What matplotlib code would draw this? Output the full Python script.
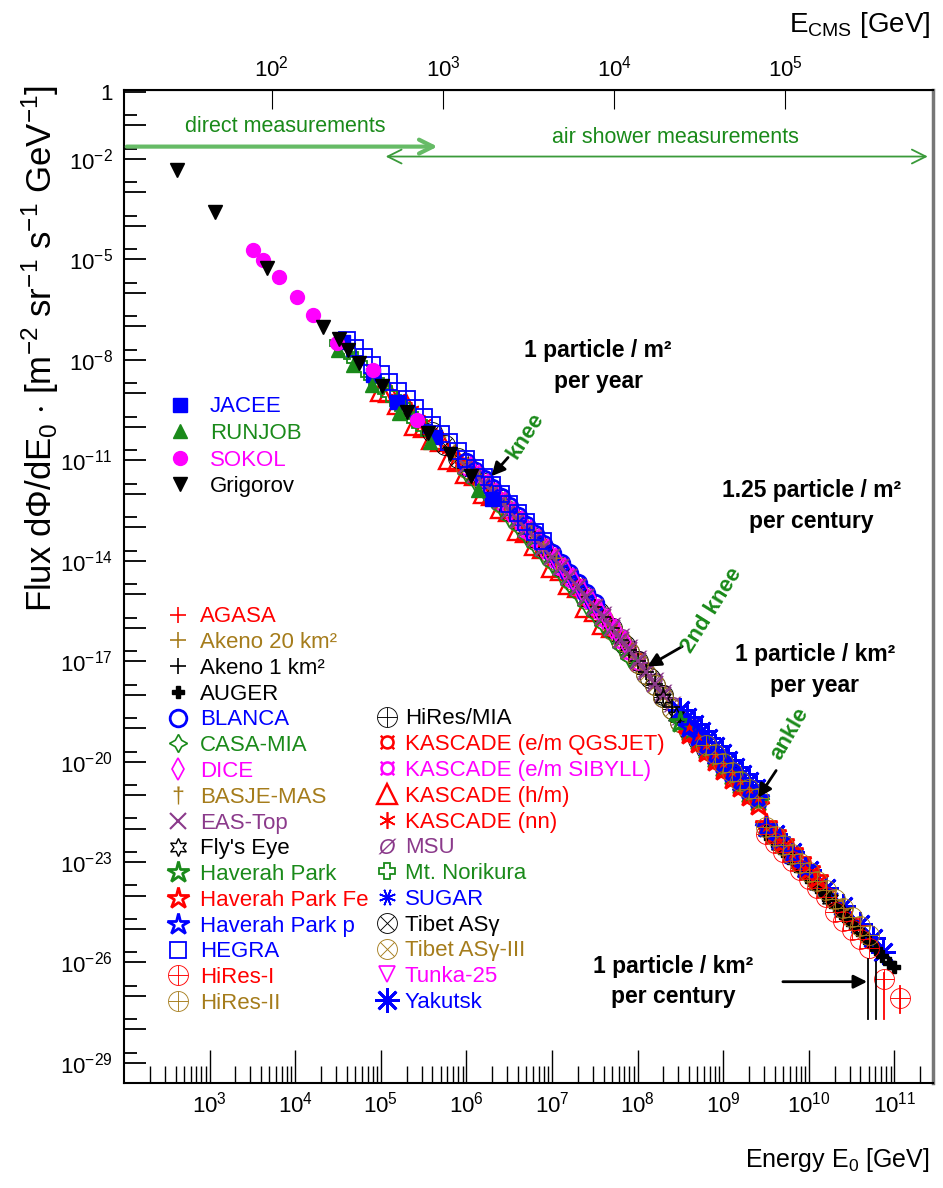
import numpy as np
import matplotlib
matplotlib.use('Agg')
import matplotlib.pyplot as plt
from matplotlib.lines import Line2D
from matplotlib.ticker import FixedLocator, FixedFormatter, NullLocator, NullFormatter

plt.rcParams['font.family'] = ['Liberation Sans', 'DejaVu Sans']
plt.rcParams['mathtext.fontset'] = 'custom'
plt.rcParams['mathtext.rm'] = 'Liberation Sans'
plt.rcParams['mathtext.it'] = 'Liberation Sans:italic'
plt.rcParams['mathtext.bf'] = 'Liberation Sans:bold'

RED = '#ff0000'
GREEN = '#1a8a1a'
MAG = '#ff00ff'
BLUE = '#0000ff'
BROWN = '#a57c1b'
PURPLE = '#8b3a8b'
BLACK = '#000000'

# ---- data: log10(E0 / GeV) and log10(flux) ----
grigorov_e = [2.62, 3.06, 3.67, 4.32, 4.51, 4.62, 4.75, 5.01, 5.31, 5.55, 5.81, 6.05]
grigorov_f = [-2.33, -3.58, -5.25, -7.01, -7.37, -7.70, -8.09, -8.78, -9.55, -10.18, -10.81, -11.46]
sokol_e = [3.51, 3.62, 3.81, 4.02, 4.21, 4.49, 4.91, 5.42]
sokol_f = [-4.72, -5.01, -5.52, -6.12, -6.66, -7.49, -8.30, -9.79]
jacee_e = [4.56, 4.91, 5.19, 5.63, 6.30]
jacee_f = [-7.46, -8.45, -9.25, -10.30, -12.15]
runjob_e = [4.50, 4.68, 4.90, 5.21, 5.57, 6.14]
runjob_f = [-7.70, -8.15, -8.75, -9.58, -10.45, -11.88]

hegra_e = [4.6, 4.7, 4.8, 4.9, 5.0, 5.1, 5.2, 5.3, 5.4, 5.5, 5.6, 5.7, 5.8, 5.9, 6.0, 6.1, 6.2, 6.3,
           6.4, 6.5, 6.6, 6.7, 6.8, 6.9]
hegra_f = [-7.40, -7.65, -7.91, -8.16, -8.42, -8.67, -8.93, -9.18, -9.44, -9.70, -9.95, -10.21,
           -10.46, -10.72, -10.97, -11.23, -11.49, -11.75, -12.02, -12.30, -12.58, -12.85, -13.13, -13.41]
norikura_e = [4.5, 4.6, 4.7, 4.8, 4.9, 5.0, 5.1, 5.2, 5.3, 5.4, 5.5]
norikura_f = [-7.49, -7.75, -8.00, -8.26, -8.51, -8.77, -9.02, -9.28, -9.53, -9.79, -10.05]
kascade_hm_e = [5.0, 5.1, 5.2, 5.3, 5.4, 5.5, 5.6, 5.7, 5.8, 5.9, 6.0, 6.1, 6.2, 6.3, 6.4, 6.5, 6.6,
                6.7, 6.8, 6.9, 7.0, 7.1, 7.2, 7.3, 7.4, 7.5, 7.6, 7.7]
kascade_hm_f = [-8.92, -8.97, -9.33, -9.38, -9.94, -10.00, -10.35, -10.41, -10.96, -11.02, -11.37,
                -11.43, -11.99, -12.05, -12.42, -12.50, -13.08, -13.15, -13.53, -13.61, -14.19, -14.29,
                -14.69, -14.79, -15.39, -15.49, -15.89, -15.99]
kascade_nn_e = [5.2, 5.35, 5.5, 5.65, 5.8, 5.95, 6.1, 6.25, 6.4, 6.55, 6.7, 6.85, 7.0]
kascade_nn_f = [-9.13, -9.51, -9.90, -10.28, -10.66, -11.05, -11.43, -11.82, -12.22, -12.64, -13.05,
                -13.47, -13.89]
kascade_qgs_e = [6.0, 6.1, 6.2, 6.3, 6.4, 6.5, 6.6, 6.7, 6.8, 6.9, 7.0, 7.1, 7.2, 7.3, 7.4, 7.5, 7.6,
                 7.7, 7.8, 7.9, 8.0]
kascade_qgs_f = [-11.12, -11.38, -11.64, -11.90, -12.17, -12.45, -12.73, -13.00, -13.28, -13.56, -13.84,
                 -14.14, -14.44, -14.74, -15.04, -15.34, -15.64, -15.96, -16.31, -16.63, -16.95]
kascade_sib_e = [6.0, 6.1, 6.2, 6.3, 6.4, 6.5, 6.6, 6.7, 6.8, 6.9, 7.0, 7.1, 7.2, 7.3, 7.4, 7.5, 7.6,
                 7.7, 7.8, 7.9, 8.0]
kascade_sib_f = [-11.25, -11.51, -11.77, -12.03, -12.30, -12.58, -12.86, -13.13, -13.41, -13.69, -13.97,
                 -14.27, -14.57, -14.87, -15.17, -15.47, -15.77, -16.09, -16.44, -16.76, -17.08]
casamia_e = [6.0, 6.1, 6.2, 6.3, 6.4, 6.5, 6.6, 6.7, 6.8, 6.9, 7.0, 7.1, 7.2, 7.3, 7.4, 7.5, 7.6, 7.7,
             7.8, 7.9]
casamia_f = [-11.39, -11.65, -11.91, -12.17, -12.44, -12.72, -13.00, -13.27, -13.55, -13.83, -14.11,
             -14.41, -14.71, -15.01, -15.31, -15.61, -15.91, -16.23, -16.58, -16.90]
dice_e = [6.05, 6.15, 6.25, 6.35, 6.45, 6.55, 6.65, 6.75, 6.85, 6.95, 7.05, 7.15, 7.25, 7.35, 7.45,
          7.55, 7.65, 7.75, 7.85]
dice_f = [-11.22, -11.48, -11.74, -12.00, -12.28, -12.56, -12.83, -13.11, -13.39, -13.67, -13.96,
          -14.26, -14.56, -14.86, -15.16, -15.46, -15.76, -16.08, -16.44]
basje_e = [5.7, 5.85, 6.0, 6.15, 6.3, 6.45, 6.6, 6.75, 6.9, 7.05]
basje_f = [-10.41, -10.79, -11.17, -11.56, -11.95, -12.36, -12.78, -13.19, -13.61, -14.04]
blanca_e = [6.0, 6.1, 6.2, 6.3, 6.4, 6.5, 6.6, 6.7, 6.8, 6.9, 7.0, 7.1, 7.2, 7.3, 7.4, 7.5]
blanca_f = [-11.05, -11.31, -11.57, -11.83, -12.10, -12.38, -12.66, -12.93, -13.21, -13.49, -13.77,
            -14.07, -14.37, -14.67, -14.97, -15.27]
tunka_e = [6.5, 6.6, 6.7, 6.8, 6.9, 7.0, 7.1, 7.2, 7.3, 7.4, 7.5, 7.6, 7.7]
tunka_f = [-12.60, -12.88, -13.15, -13.43, -13.71, -13.99, -14.29, -14.59, -14.89, -15.19, -15.49,
           -15.79, -16.09]
eastop_e = [6.0, 6.1, 6.2, 6.3, 6.4, 6.5, 6.6, 6.7, 6.8, 6.9, 7.0, 7.1, 7.2, 7.3, 7.4, 7.5, 7.6, 7.7,
            7.8, 7.9, 8.0, 8.1, 8.2, 8.3]
eastop_f = [-11.17, -11.43, -11.69, -11.95, -12.22, -12.50, -12.78, -13.05, -13.33, -13.61, -13.89,
            -14.19, -14.49, -14.79, -15.09, -15.39, -15.69, -16.01, -16.36, -16.68, -17.00, -17.33,
            -17.67, -18.02]
msu_e = [7.6, 7.7, 7.8, 7.9, 8.0, 8.1, 8.2, 8.3, 8.4, 8.5, 8.6]
msu_f = [-15.59, -15.91, -16.26, -16.58, -16.90, -17.23, -17.57, -17.92, -18.28, -18.66, -18.93]
tibet_e = [5.6, 5.75, 5.9, 6.05, 6.2, 6.35, 6.5, 6.65, 6.8, 6.95, 7.1, 7.25, 7.4, 7.55, 7.7, 7.85,
           8.0, 8.15, 8.3]
tibet_f = [-10.15, -10.54, -10.92, -11.30, -11.69, -12.08, -12.50, -12.91, -13.33, -13.75, -14.19,
           -14.64, -15.09, -15.54, -16.01, -16.52, -17.00, -17.50, -18.02]
tibet3_e = [6.0, 6.2, 6.4, 6.6, 6.8, 7.0, 7.2, 7.4, 7.6, 7.7, 7.8, 7.9, 8.0, 8.1, 8.2, 8.3, 8.4,
            8.5, 8.6]
tibet3_f = [-11.22, -11.74, -12.27, -12.83, -13.38, -13.94, -14.54, -15.14, -15.74, -16.06, -16.41,
            -16.73, -17.05, -17.38, -17.72, -18.07, -18.43, -18.81, -19.08]
hiresmia_e = [7.8, 7.9, 8.0, 8.1, 8.2, 8.3, 8.4, 8.5, 8.6, 8.7, 8.8]
hiresmia_f = [-16.41, -16.73, -17.05, -17.38, -17.72, -18.07, -18.43, -18.81, -19.08, -19.35, -19.61]
akeno1_e = [6.8, 6.9, 7.0, 7.1, 7.2, 7.3, 7.4, 7.5, 7.6, 7.7, 7.8, 7.9, 8.0, 8.1, 8.2, 8.3, 8.4,
            8.5, 8.6, 8.7, 8.8]
akeno1_f = [-13.33, -13.61, -13.89, -14.19, -14.49, -14.79, -15.09, -15.39, -15.69, -16.01, -16.36,
            -16.68, -17.00, -17.33, -17.67, -18.02, -18.38, -18.76, -19.03, -19.30, -19.56]
akeno20_e = [8.6, 8.7, 8.8, 8.9, 9.0, 9.1, 9.2, 9.3, 9.4, 9.5, 9.6, 9.7, 9.8, 9.9, 10.0, 10.1, 10.2,
             10.3, 10.4]
akeno20_f = [-19.03, -19.30, -19.56, -19.83, -20.10, -20.36, -20.62, -20.88, -21.14, -22.00, -22.27,
             -22.54, -22.81, -23.08, -23.35, -23.62, -23.89, -24.15, -24.42]
agasa_e = [8.6, 8.7, 8.8, 8.9, 9.0, 9.1, 9.2, 9.3, 9.4, 9.5, 9.6, 9.7, 9.8, 9.9, 10.0, 10.1, 10.2,
           10.3, 10.4, 10.5, 10.6]
agasa_f = [-19.03, -19.30, -19.56, -19.83, -20.10, -20.36, -20.62, -20.88, -21.14, -22.00, -22.27,
           -22.54, -22.81, -23.08, -23.35, -23.62, -23.89, -24.15, -24.42, -24.69, -24.90]
flyseye_e = [8.3, 8.45, 8.6, 8.75, 8.9, 9.05, 9.2, 9.35, 9.5, 9.65, 9.8, 9.95, 10.1, 10.25, 10.4]
flyseye_f = [-18.10, -18.65, -19.11, -19.51, -19.91, -20.31, -20.70, -21.09, -22.08, -22.48, -22.89,
             -23.29, -23.70, -24.10, -24.50]
hp_e = [8.5, 8.6, 8.7, 8.8, 8.9, 9.0, 9.1, 9.2, 9.3, 9.4]
hp_f = [-18.81, -19.08, -19.35, -19.61, -19.88, -20.15, -20.41, -20.67, -20.93, -21.19]
hpfe_e = [8.6, 8.7, 8.8, 8.9, 9.0, 9.1, 9.2, 9.3, 9.4, 9.5, 9.6, 9.7, 9.8, 9.9, 10.0, 10.1]
hpfe_f = [-19.18, -19.45, -19.71, -19.98, -20.25, -20.51, -20.77, -21.03, -21.29, -21.85, -22.12,
          -22.39, -22.66, -22.93, -23.20, -23.47]
hpp_e = [8.6, 8.7, 8.8, 8.9, 9.0, 9.1, 9.2, 9.3, 9.4, 9.5, 9.65, 9.8, 9.95]
hpp_f = [-18.98, -19.25, -19.51, -19.78, -20.05, -20.31, -20.57, -20.83, -21.09, -21.95, -22.35,
         -22.76, -23.17]
yakutsk_e = [8.5, 8.58, 8.66, 8.74, 8.82, 8.9, 8.98, 9.06, 9.14, 9.22, 9.3, 9.38, 9.6, 9.8, 10.0,
             10.2, 10.4, 10.6, 10.75, 10.87]
yakutsk_f = [-18.46, -18.68, -18.89, -19.10, -19.31, -19.53, -19.75, -19.96, -20.16, -20.37, -20.58,
             -20.79, -22.17, -22.71, -23.25, -23.79, -24.32, -24.86, -25.27, -25.69]
sugar_e = [9.0, 9.15, 9.3, 9.5, 9.65, 9.8, 9.95, 10.1, 10.25]
sugar_f = [-20.10, -20.49, -20.88, -22.00, -22.40, -22.81, -23.21, -23.62, -24.02]
hires1_e = [9.5, 9.6, 9.7, 9.8, 9.9, 10.0, 10.1, 10.2, 10.3, 10.4, 10.5, 10.6, 10.7, 10.88, 11.07]
hires1_f = [-22.15, -22.42, -22.69, -22.96, -23.23, -23.50, -23.77, -24.04, -24.50, -24.77, -25.04,
            -25.31, -25.58, -26.50, -27.05]
hires2_e = [8.8, 8.9, 9.0, 9.1, 9.2, 9.3, 9.4, 9.5, 9.6, 9.7, 9.8, 9.9, 10.0, 10.1, 10.2, 10.3, 10.4,
            10.5, 10.6, 10.7]
hires2_f = [-19.51, -19.78, -20.05, -20.31, -20.57, -20.83, -21.09, -21.95, -22.22, -22.49, -22.76,
            -23.03, -23.30, -23.57, -23.84, -24.10, -24.37, -24.64, -24.91, -25.18]
auger_e = [9.5, 9.58, 9.66, 9.74, 9.82, 9.9, 9.98, 10.06, 10.14, 10.22, 10.3, 10.38, 10.46, 10.54,
           10.62, 10.7, 10.78, 10.86, 10.94, 11.0]
auger_f = [-22.15, -22.37, -22.58, -22.80, -23.01, -23.23, -23.45, -23.66, -23.88, -24.09, -24.30,
           -24.52, -24.73, -24.95, -25.16, -25.38, -25.60, -25.81, -26.03, -26.15]

# vertical error bars at the highest energies (log10 E, lower end, upper end)
err_e = [10.69, 10.79, 10.88, 11.07]
err_lo = [-27.7, -27.7, -27.7, -27.5]
err_hi = [-25.9, -26.0, -26.3, -26.7]
err_col = [BLACK, BLACK, RED, RED]

x_ticks = [1e3, 1e4, 1e5, 1e6, 1e7, 1e8, 1e9, 1e10, 1e11]
x_labels = ['$10^{3}$', '$10^{4}$', '$10^{5}$', '$10^{6}$', '$10^{7}$', '$10^{8}$', '$10^{9}$',
            '$10^{10}$', '$10^{11}$']
y_label_exp = [0, -2, -5, -8, -11, -14, -17, -20, -23, -26, -29]
y_labels = ['1', '$10^{-2}$', '$10^{-5}$', '$10^{-8}$', '$10^{-11}$', '$10^{-14}$', '$10^{-17}$',
            '$10^{-20}$', '$10^{-23}$', '$10^{-26}$', '$10^{-29}$']
cms_ticks = [1e2, 1e3, 1e4, 1e5]
cms_labels = ['$10^{2}$', '$10^{3}$', '$10^{4}$', '$10^{5}$']

# label, x, y, marker, colour, filled, size, edge width
direct = [
    ('JACEE', jacee_e, jacee_f, 's', BLUE, True, 10, 1),
    ('RUNJOB', runjob_e, runjob_f, '^', GREEN, True, 10, 1),
    ('SOKOL', sokol_e, sokol_f, 'o', MAG, True, 10, 1),
    ('Grigorov', grigorov_e, grigorov_f, 'v', BLACK, True, 10, 1),
]
col1 = [
    ('AGASA', agasa_e, agasa_f, '+', RED, False, 11, 1.2),
    ('Akeno 20 km²', akeno20_e, akeno20_f, '+', BROWN, False, 11, 1.2),
    ('Akeno 1 km²', akeno1_e, akeno1_f, '+', BLACK, False, 11, 1.2),
    ('AUGER', auger_e, auger_f, 'P', BLACK, True, 9, 1),
    ('BLANCA', blanca_e, blanca_f, 'o', BLUE, False, 12, 2),
    ('CASA-MIA', casamia_e, casamia_f, (4, 1, 0), GREEN, False, 13, 1.2),
    ('DICE', dice_e, dice_f, 'd', MAG, False, 11, 1.2),
    ('BASJE-MAS', basje_e, basje_f, r'$\dag$', BROWN, True, 13, 0),
    ('EAS-Top', eastop_e, eastop_f, 'x', PURPLE, False, 11, 1.5),
    ("Fly's Eye", flyseye_e, flyseye_f, (6, 1, 0), BLACK, False, 13, 1),
    ('Haverah Park', hp_e, hp_f, '*', GREEN, False, 16, 2),
    ('Haverah Park Fe', hpfe_e, hpfe_f, '*', RED, False, 16, 2),
    ('Haverah Park p', hpp_e, hpp_f, '*', BLUE, False, 16, 2),
    ('HEGRA', hegra_e, hegra_f, 's', BLUE, False, 12, 1.3),
    ('HiRes-I', hires1_e, hires1_f, r'$\oplus$', RED, True, 15, 0),
    ('HiRes-II', hires2_e, hires2_f, r'$\oplus$', BROWN, True, 15, 0),
]
col2 = [
    ('HiRes/MIA', hiresmia_e, hiresmia_f, r'$\oplus$', BLACK, True, 15, 0),
    ('KASCADE (e/m QGSJET)', kascade_qgs_e, kascade_qgs_f, r'$¤$', RED, True, 11, 0),
    ('KASCADE (e/m SIBYLL)', kascade_sib_e, kascade_sib_f, r'$¤$', MAG, True, 11, 0),
    ('KASCADE (h/m)', kascade_hm_e, kascade_hm_f, '^', RED, False, 15, 1.7),
    ('KASCADE (nn)', kascade_nn_e, kascade_nn_f, (6, 2, 0), RED, False, 12, 1.2),
    ('MSU', msu_e, msu_f, r'$\O$', PURPLE, True, 13, 0),
    ('Mt. Norikura', norikura_e, norikura_f, 'P', GREEN, False, 12, 1.3),
    ('SUGAR', sugar_e, sugar_f, (8, 2, 22.5), BLUE, False, 12, 1.2),
    ('Tibet ASγ', tibet_e, tibet_f, r'$\otimes$', BLACK, True, 15, 0),
    ('Tibet ASγ-III', tibet3_e, tibet3_f, r'$\otimes$', BROWN, True, 15, 0),
    ('Tunka-25', tunka_e, tunka_f, 'v', MAG, False, 11, 1.2),
    ('Yakutsk', yakutsk_e, yakutsk_f, (8, 2, 0), BLUE, False, 18, 2),
]


def style(marker, color, filled, size, mew):
    return dict(linestyle='none', marker=marker, markersize=size, markeredgewidth=mew,
                markeredgecolor=color, markerfacecolor=color if filled else 'none')


fig = plt.figure(figsize=(9.43, 11.88), dpi=100)
ax = fig.add_axes([124 / 943, 1 - 1083 / 1188, 809 / 943, 993 / 1188])
ax.set_xscale('log')
ax.set_yscale('log')

# air shower points first, direct ones on top
for lab, e, f, m, c, fill, s, w in col2 + col1:
    ax.plot(10 ** np.array(e), 10 ** np.array(f), **style(m, c, fill, s, w))
for lab, e, f, m, c, fill, s, w in direct:
    ax.plot(10 ** np.array(e), 10 ** np.array(f), zorder=3, **style(m, c, fill, s, w))

for e, lo, hi, c in zip(err_e, err_lo, err_hi, err_col):
    ax.plot([10 ** e, 10 ** e], [10 ** lo, 10 ** hi], color=c, lw=1.3)

ax.set_xlim(1e2, 10 ** 11.45)
ax.set_ylim(10 ** -29.6, 10 ** 0.06)

# axes and ticks, ROOT-like
ax.xaxis.set_major_locator(FixedLocator(x_ticks))
ax.xaxis.set_major_formatter(FixedFormatter(x_labels))
ax.xaxis.set_minor_locator(FixedLocator([k * 10 ** d for d in range(2, 12) for k in range(2, 10)]))
ax.xaxis.set_minor_formatter(NullFormatter())
ax.tick_params(axis='x', which='major', direction='in', length=24, width=1, labelsize=16, pad=6, top=False)
ax.tick_params(axis='x', which='minor', direction='in', length=12, width=1, top=False)
y_major = [10.0 ** -k for k in range(0, 30)]
ax.yaxis.set_major_locator(FixedLocator(y_major))
ax.yaxis.set_major_formatter(FixedFormatter([y_labels[y_label_exp.index(-k)] if -k in y_label_exp else ''
                                             for k in range(0, 30)]))
ax.yaxis.set_minor_locator(FixedLocator([2 * 10.0 ** -k for k in range(1, 31)]))
ax.tick_params(axis='y', which='major', direction='in', length=16, width=1.3, labelsize=16, pad=8, right=False)
ax.tick_params(axis='y', which='minor', direction='in', length=9, width=1.3, right=False)
for sp in ax.spines.values():
    sp.set_linewidth(1.5)
ax.spines['right'].set_color('#777777')
ax.spines['right'].set_linewidth(2.5)

mp2 = 2 * 0.938


def to_cms(e):
    return np.sqrt(mp2 * np.clip(e, 1e-30, None))


def from_cms(c):
    return np.asarray(c) ** 2 / mp2


sec = ax.secondary_xaxis('top', functions=(to_cms, from_cms))
sec.xaxis.set_major_locator(FixedLocator(cms_ticks))
sec.xaxis.set_major_formatter(FixedFormatter(cms_labels))
sec.xaxis.set_minor_locator(NullLocator())
sec.tick_params(direction='in', length=14, labelsize=16, pad=6)

# axis titles
fig.text(930 / 943, 1 - 1160 / 1188, 'Energy E$_0$ [GeV]', ha='right', va='center', fontsize=18)
fig.text(930 / 943, 1 - 25 / 1188, 'E$_{\\mathrm{CMS}}$ [GeV]', ha='right', va='center', fontsize=20)
fig.text(40 / 943, 1 - 85 / 1188,
         r'Flux d$\Phi$/dE$_0$ $\cdot$ [m$^{-2}$ sr$^{-1}$ s$^{-1}$ GeV$^{-1}$]',
         rotation=90, ha='center', va='top', fontsize=25)

# measurement ranges
ax.annotate('', xy=(0.391, 0.943), xytext=(0.0, 0.943), xycoords='axes fraction',
            arrowprops=dict(arrowstyle='->', color='#66bb66', lw=3, mutation_scale=25))
ax.annotate('', xy=(0.997, 0.933), xytext=(0.320, 0.933), xycoords='axes fraction',
            arrowprops=dict(arrowstyle='<->', color='#3a9a3a', lw=1.3, mutation_scale=25))
ax.text(0.199, 0.963, 'direct measurements', transform=ax.transAxes, color=GREEN,
        ha='center', va='center', fontsize=15.5)
ax.text(0.682, 0.952, 'air shower measurements', transform=ax.transAxes, color=GREEN,
        ha='center', va='center', fontsize=15.5)

# rate labels
bold = dict(transform=ax.transAxes, ha='center', va='center', fontsize=16.5, fontweight='bold',
            linespacing=1.4)
ax.text(0.586, 0.722, '1 particle / m²\nper year', **bold)
ax.text(0.850, 0.581, '1.25 particle / m²\nper century', **bold)
ax.text(0.854, 0.416, '1 particle / km²\nper year', **bold)
ax.text(0.679, 0.102, '1 particle / km²\nper century', **bold)
ax.annotate('', xy=(0.922, 0.102), xytext=(0.811, 0.102), xycoords='axes fraction',
            arrowprops=dict(arrowstyle='-|>', color='k', lw=2, mutation_scale=20))

# knee, 2nd knee, ankle
feat = [('knee', (0.452, 0.609), (0.477, 0.632), (0.496, 0.652), 57),
        ('2nd knee', (0.644, 0.418), (0.693, 0.441), (0.727, 0.476), 58),
        ('ankle', (0.782, 0.285), (0.808, 0.317), (0.823, 0.352), 60)]
for name, tip, tail, pos, rot in feat:
    ax.annotate('', xy=tip, xytext=tail, xycoords='axes fraction',
                arrowprops=dict(arrowstyle='-|>', color='k', lw=2, mutation_scale=20))
    ax.text(pos[0], pos[1], name, transform=ax.transAxes, rotation=rot, color=GREEN,
            fontweight='bold', fontsize=16, ha='center', va='center')


def handles(rows):
    return [Line2D([], [], **style(m, c, fill, s, w)) for lab, e, f, m, c, fill, s, w in rows]


leg_kw = dict(frameon=False, loc='upper left', borderpad=0, borderaxespad=0, handlelength=1.0,
              fontsize=16)
leg1 = ax.legend(handles(direct), [r[0] for r in direct], bbox_to_anchor=(0.0556, 0.6914),
                 labelcolor=[r[4] for r in direct], handletextpad=0.85, labelspacing=0.25, **leg_kw)
ax.add_artist(leg1)
leg2 = ax.legend(handles(col1), [r[0] for r in col1], bbox_to_anchor=(0.0531, 0.480),
                 labelcolor=[r[4] for r in col1], handletextpad=0.49, labelspacing=0.215, **leg_kw)
ax.add_artist(leg2)
ax.legend(handles(col2), [r[0] for r in col2], bbox_to_anchor=(0.3115, 0.3772),
          labelcolor=[r[4] for r in col2], handletextpad=0.3, labelspacing=0.215, **leg_kw)

fig.savefig('out.png', dpi=100)
